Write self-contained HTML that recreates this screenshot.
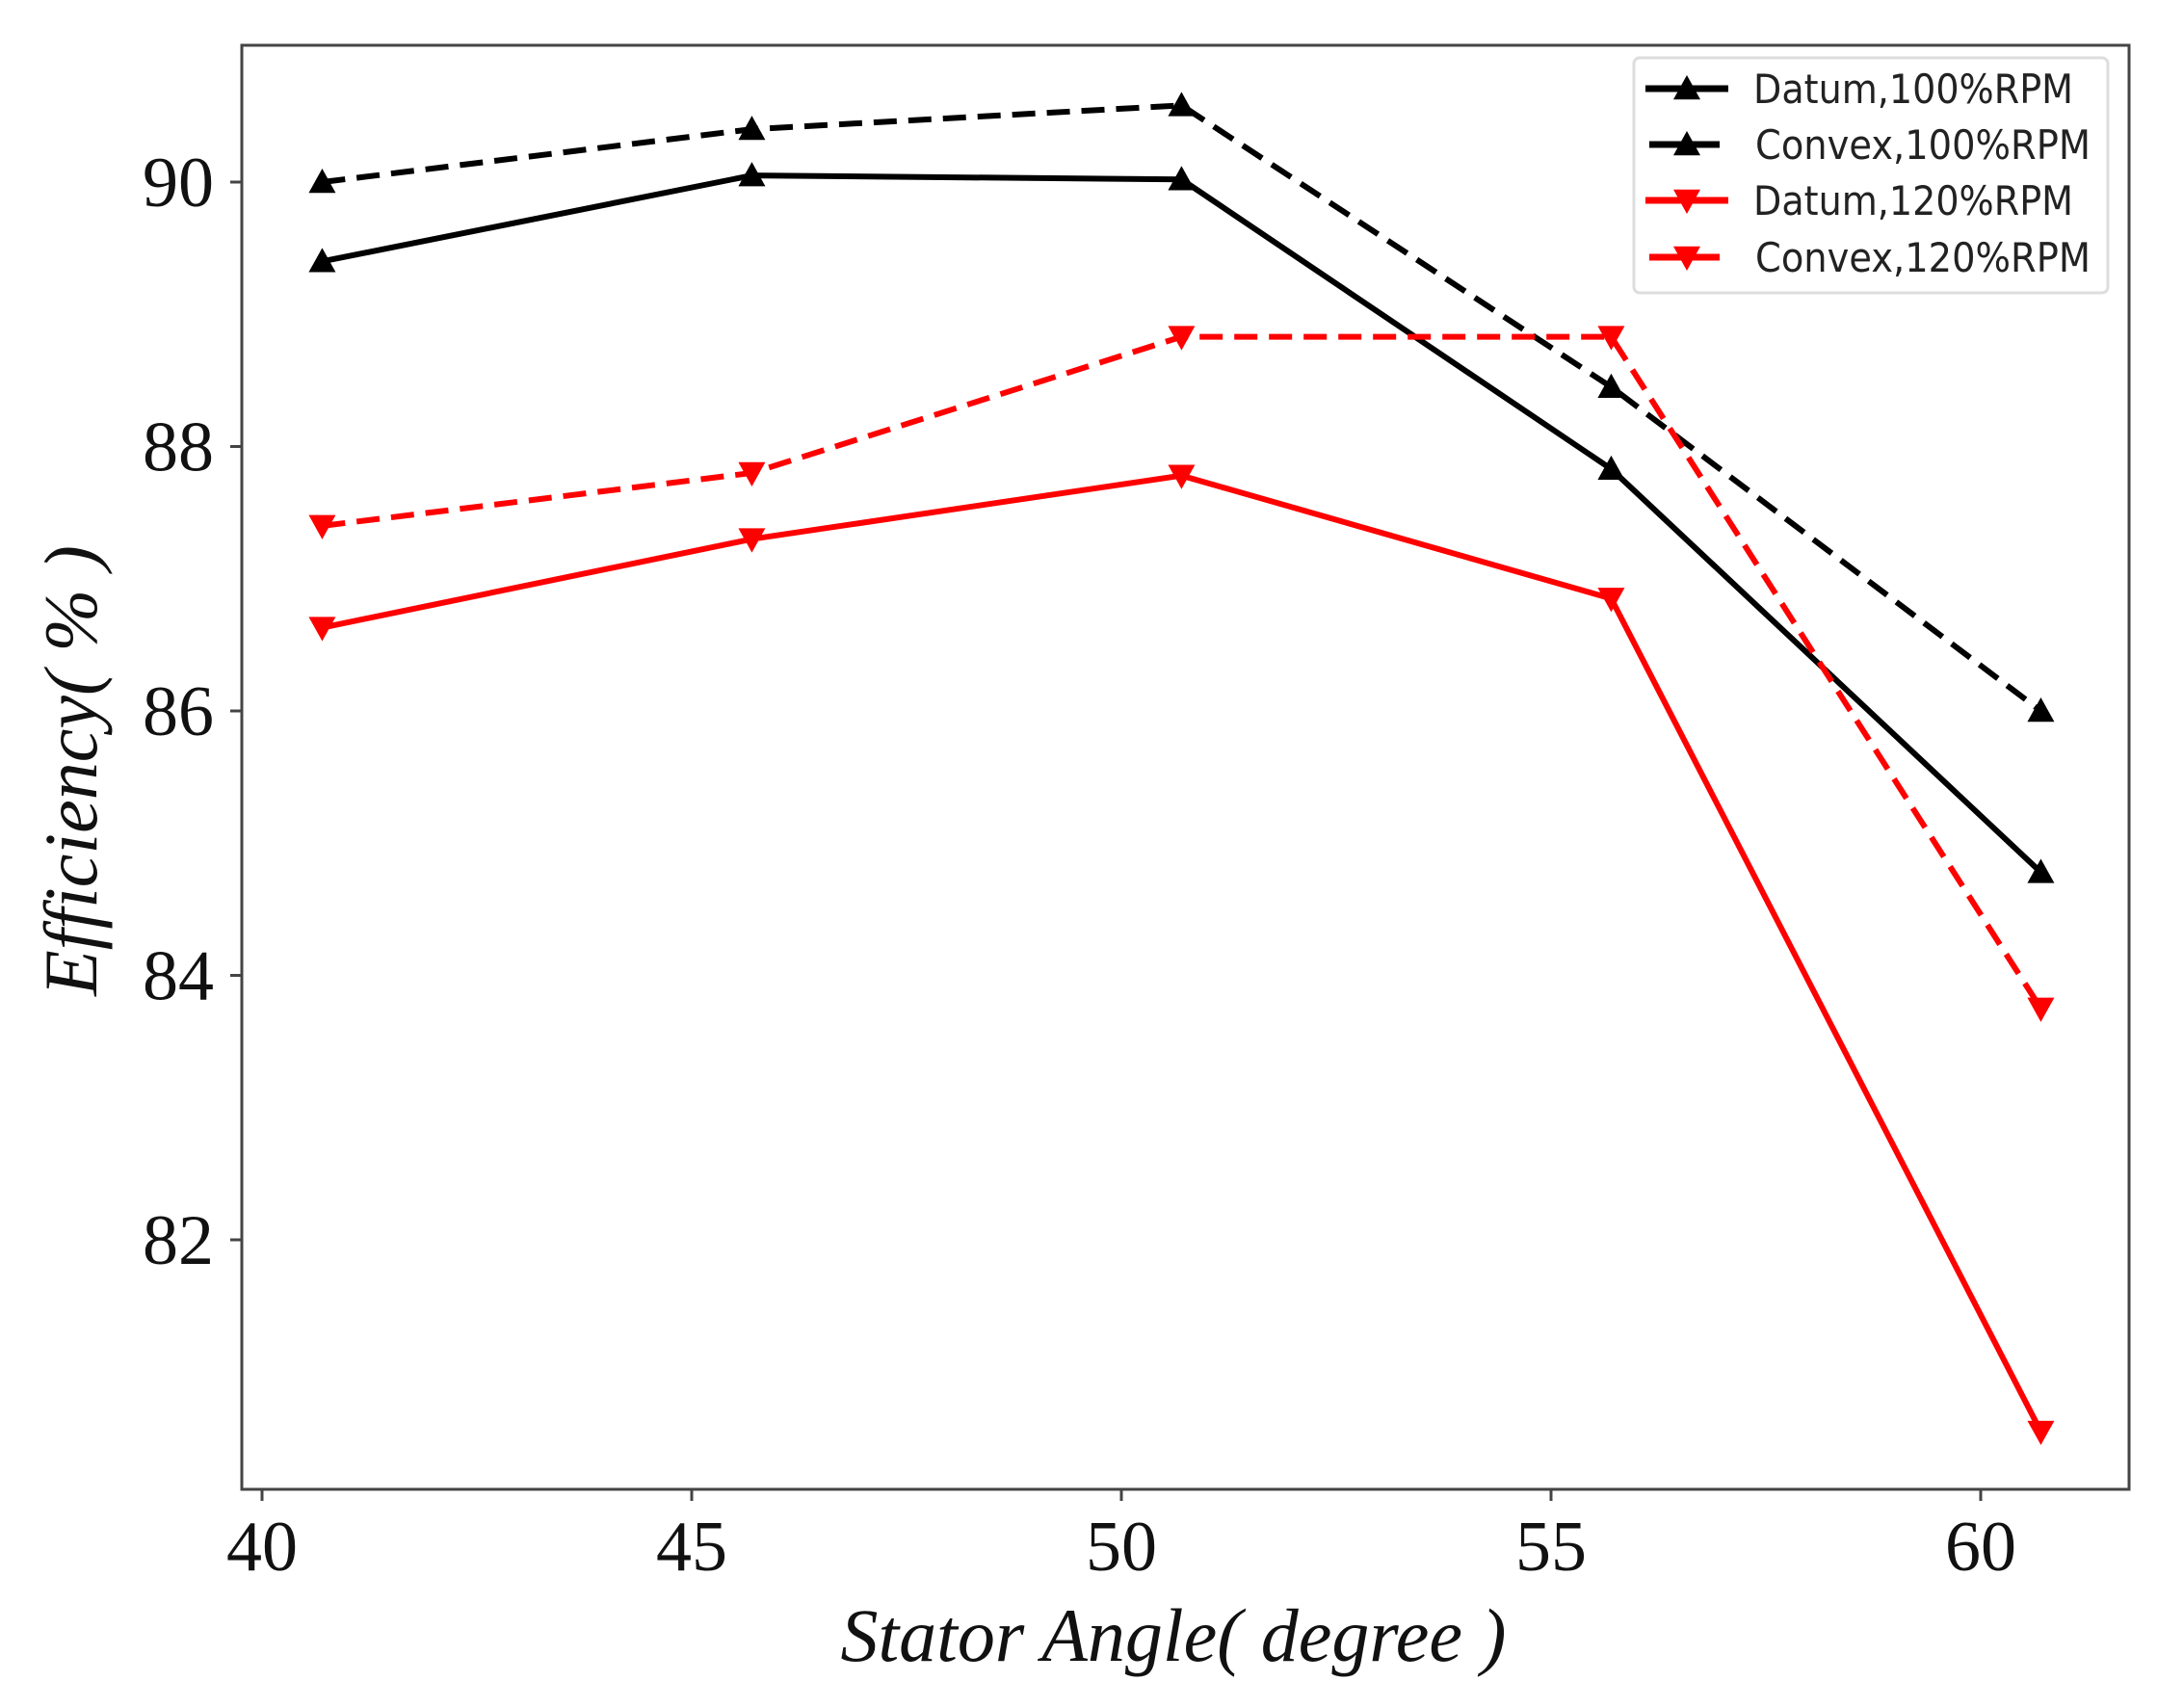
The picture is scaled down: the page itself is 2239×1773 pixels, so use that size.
<!DOCTYPE html>
<html><head><meta charset="utf-8"><style>body{margin:0;background:#fff}svg{display:block}</style></head>
<body>
<svg id="chart" width="2239" height="1773" xmlns="http://www.w3.org/2000/svg"></svg>
<script>
const categories = [40.7, 45.7, 50.7, 55.7, 60.7];
const datum100 = [89.4, 90.05, 90.02, 87.83, 84.78];
const convex100 = [90.0, 90.4, 90.58, 88.45, 86.0];
const datum120 = [86.63, 87.3, 87.78, 86.85, 80.55];
const convex120 = [87.4, 87.8, 88.83, 88.83, 83.75];
const xTicks = [40, 45, 50, 55, 60];
const yTicks = [82, 84, 86, 88, 90];
const seriesNames = ["Datum,100%RPM", "Convex,100%RPM", "Datum,120%RPM", "Convex,120%RPM"];

const NS = "http://www.w3.org/2000/svg";
const svg = document.getElementById('chart');
function X(v){ return 272 + (v-40)*(2056-272)/20; }
function Y(v){ return 189 + (90-v)*(1287-189)/8; }
function mk(tag, attrs, parent){ const e=document.createElementNS(NS,tag); for(const k in attrs) e.setAttribute(k,attrs[k]); (parent||svg).appendChild(e); return e; }

const L=251, R=2210, T=47, B=1546;
const frame = mk('rect',{x:L,y:T,width:R-L,height:B-T,fill:'none',stroke:'#444','stroke-width':3});



xTicks.forEach(t=>{
  const tk=mk('line',{x1:X(t),x2:X(t),y1:B,y2:B+12,stroke:'#444','stroke-width':3});
  
  
  const tx=mk('text',{x:X(t),y:1630,'text-anchor':'middle','font-family':'Liberation Serif, serif','font-size':74,fill:'#111'});
  tx.textContent=t;
  
  
});
yTicks.forEach(t=>{
  const tk=mk('line',{x1:L-12,x2:L,y1:Y(t),y2:Y(t),stroke:'#444','stroke-width':3});
  
  
  const tx=mk('text',{x:222,y:Y(t)+25,'text-anchor':'end','font-family':'Liberation Serif, serif','font-size':74,fill:'#111'});
  tx.textContent=t;
  
  
});
const xt=mk('text',{x:1218,y:1724,'text-anchor':'middle','font-family':'Liberation Serif, serif','font-style':'italic','font-size':78,fill:'#111'});
xt.textContent='Stator Angle( degree )';


const yt=mk('text',{x:0,y:0,transform:'translate(100,800) rotate(-90)','text-anchor':'middle','font-family':'Liberation Serif, serif','font-style':'italic','font-size':78,fill:'#111'});
yt.textContent='Efficiency( % )';



function marker(x,y,up,color,parent){
  const s=14;
  const pts = up ? `${x},${y-s} ${x-s},${y+s*0.8} ${x+s},${y+s*0.8}` : `${x},${y+s} ${x-s},${y-s*0.8} ${x+s},${y-s*0.8}`;
  return mk('polygon',{points:pts,fill:color},parent);
}
const series=[
  {vals:datum100,color:'#000',dash:null,up:true,name:'datum-100'},
  {vals:convex100,color:'#000',dash:'24 12',up:true,name:'convex-100'},
  {vals:datum120,color:'#f00',dash:null,up:false,name:'datum-120'},
  {vals:convex120,color:'#f00',dash:'24 12',up:false,name:'convex-120'}
];
series.forEach(s=>{
  const g=mk('g',{});
  
  
  const p=mk('polyline',{points:s.vals.map((v,i)=>X(categories[i])+','+Y(v)).join(' '),fill:'none',stroke:s.color,'stroke-width':6,'stroke-dasharray':s.dash||'none'},g);
  
  
  s.vals.forEach((v,i)=>{
    const m=marker(X(categories[i]),Y(v),s.up,s.color,g);
    
    
  });
});

const lg=mk('g',{});


const lb=mk('rect',{x:1696,y:60,width:492,height:244,rx:6,fill:'#fff',stroke:'#ddd','stroke-width':3},lg);


const rowsY=[92,150,208,267];
const textLen=[332,348,332,348];
series.forEach((s,i)=>{
  const e=mk('g',{},lg);
  
  
  const x1=i%2?1712:1708, x2=i%2?1785:1794;
  mk('line',{x1:x1,x2:x2,y1:rowsY[i],y2:rowsY[i],stroke:s.color,'stroke-width':7},e);
  marker(1751,rowsY[i],s.up,s.color,e);
  const t=mk('text',{x:i%2?1822:1820,y:rowsY[i]+15,'font-family':'DejaVu Sans, sans-serif','font-size':42,fill:'#222',textLength:textLen[i],lengthAdjust:'spacingAndGlyphs'},e);
  t.textContent=seriesNames[i];
});
</script>
</body></html>
